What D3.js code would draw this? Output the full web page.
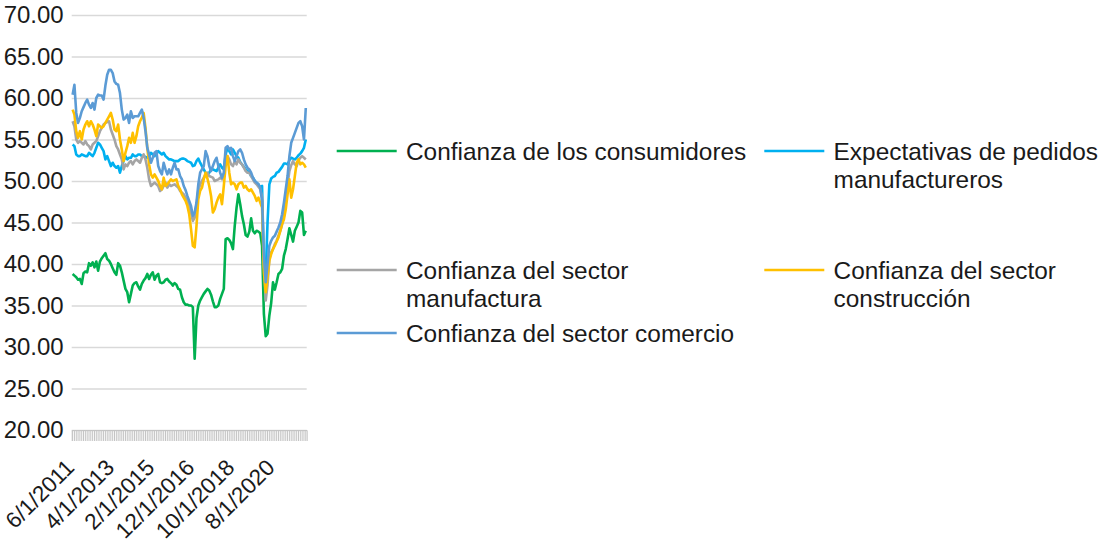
<!DOCTYPE html>
<html>
<head>
<meta charset="utf-8">
<script src="https://cdn.jsdelivr.net/npm/d3@7"></script>
<style>
  body { margin: 0; background: #fff; }
  text { font-family: "Liberation Sans", Arial, sans-serif; fill: #1a1a1a; }
</style>
</head>
<body>
<div id="chart"></div>
<script>
// monthly categories, 6/1/2011 .. 2/1/2022
var categories = d3.timeMonths(new Date(2011, 5, 1), new Date(2022, 2, 1));
var fmt = d3.timeFormat("%-m/%-d/%Y");

var tickLabels = ["6/1/2011", "4/1/2013", "2/1/2015", "12/1/2016", "10/1/2018", "8/1/2020"];
var yTicks = [20, 25, 30, 35, 40, 45, 50, 55, 60, 65, 70];

var consumidores = [
  38.8, 38.6, 38.4, 38.1, 38.2, 37.6, 38.9, 39.1, 39.0, 40.1,
  39.8, 40.2, 39.6, 40.3, 39.2, 40.3, 40.7, 41.0, 41.3, 40.6,
  40.4, 40.0, 39.5, 39.0, 38.7, 40.1, 39.8, 39.0, 38.0, 37.0,
  36.6, 35.4, 36.4, 37.4, 37.7, 37.8, 37.3, 36.9, 37.6, 38.0,
  38.3, 38.8, 38.2, 38.7, 39.0, 38.1, 38.6, 38.8, 37.8, 37.7,
  37.8, 38.1, 38.2, 37.9, 37.7, 37.4, 37.7, 37.5, 37.0, 36.9,
  36.0, 35.4, 35.1, 35.1, 35.0, 35.0, 34.8, 28.6, 33.5, 35.0,
  35.6, 36.0, 36.4, 36.7, 37.0, 36.8, 36.3, 35.5, 34.8, 34.8,
  35.0, 35.8, 36.4, 37.0, 43.0, 43.1, 42.9, 42.5, 41.8, 44.6,
  46.8, 48.4, 47.2, 45.8, 44.8, 43.5, 43.3, 43.9, 45.5, 44.0,
  43.7, 44.0, 43.9, 43.7, 42.2, 34.0, 31.3, 31.6, 33.8, 35.3,
  37.8, 36.9, 37.8, 38.8, 39.0, 39.4, 41.0, 41.8, 43.0, 44.3,
  43.5, 42.7, 44.0, 44.5, 45.0, 46.4, 46.2, 43.5, 44.0
];

var pedidos = [
  54.4, 54.2, 53.2, 53.0, 53.0, 53.2, 53.1, 53.0, 53.0, 53.4,
  53.2, 53.0, 53.4, 54.0, 54.6, 54.4, 54.0, 53.6, 52.6, 53.0,
  52.4, 51.8, 52.2, 51.8, 51.6, 51.8, 51.0, 51.8, 52.4, 53.0,
  52.6, 52.8, 52.8, 53.2, 53.0, 53.0, 53.2, 53.2, 53.0, 53.0,
  52.9, 52.8, 53.0, 53.4, 53.2, 53.0, 53.3, 53.6, 53.4, 53.2,
  53.4, 53.0, 52.8, 52.6, 52.6, 52.5, 52.4, 52.4, 52.4, 52.6,
  52.7, 52.7, 52.6, 52.4, 52.3, 52.2, 51.8, 51.9, 52.4, 52.7,
  52.2, 51.8, 51.4, 51.0, 50.8, 51.0, 51.4, 51.4, 51.3, 51.2,
  51.6, 52.0, 51.6, 51.4, 53.2, 54.0, 53.6, 53.2, 53.8, 53.4,
  53.0, 52.8, 52.3, 52.0, 51.7, 51.4, 51.2, 51.0, 50.6, 50.4,
  50.0, 49.8, 49.6, 49.2, 49.4, 39.6, 38.6, 45.0, 49.6, 50.3,
  50.5, 50.6, 51.0, 51.1, 51.4, 51.7, 52.1, 52.1, 52.0, 52.5,
  52.8, 52.7, 52.6, 52.8, 53.1, 53.3, 53.6, 54.0, 55.0
];

var manufactura = [
  57.2, 56.6, 55.0, 54.6, 54.8, 54.6, 54.4, 54.8, 54.4, 54.2,
  53.8, 54.4, 54.6, 54.8, 55.4, 56.0, 56.4, 56.8, 57.0, 57.1,
  57.2, 56.2, 55.6, 55.0, 54.2, 53.8, 53.2, 52.6, 51.4, 52.0,
  51.8, 52.2, 52.4, 52.0, 52.4, 52.6, 52.4, 52.2, 52.8, 53.2,
  52.6, 51.6, 50.2, 49.4, 49.6, 49.8, 49.6, 49.4, 48.8, 49.0,
  49.4, 49.8, 49.2, 49.6, 49.4, 49.5, 49.6, 49.4, 49.2, 48.8,
  48.6, 48.4, 48.0, 47.6, 47.0, 46.2, 45.2, 45.6, 47.2, 48.8,
  49.6, 50.0, 50.4, 50.8, 51.0, 50.6, 50.5, 50.4, 50.0, 50.1,
  50.2, 50.4, 50.2, 50.6, 52.6, 53.0, 52.6, 52.0, 51.8, 52.4,
  52.0, 52.6, 52.2, 52.0, 51.6, 51.2, 51.0, 51.0, 50.6, 50.2,
  49.8, 49.6, 49.3, 49.0, 48.0, 40.0, 35.6, 37.5, 40.6, 41.4,
  41.8, 42.4, 42.8, 43.4, 44.0, 44.8, 45.8, 47.4, 49.6, 51.2,
  51.9, 52.4, 52.0, 51.8, 52.5, 52.8, 53.0, 52.8, 52.6
];

var construccion = [
  58.6, 58.0, 56.0, 55.2, 56.0, 55.0, 56.2, 56.8, 57.2, 56.6,
  57.2, 56.8, 56.2, 55.4, 56.8, 56.6, 56.4, 56.6, 57.0, 57.4,
  57.8, 58.2, 57.4, 56.2, 56.0, 56.8, 55.0, 53.8, 52.4, 53.4,
  54.2, 55.2, 54.6, 55.8, 54.6, 55.4, 56.6, 57.2, 57.6, 58.2,
  56.4, 54.0, 52.0, 50.8, 50.4, 50.8, 50.4, 50.0, 49.4, 49.0,
  50.4, 49.4, 49.6, 49.9, 50.2, 50.0, 50.1, 50.2, 49.4, 49.0,
  48.4, 48.0, 47.6, 47.0, 46.0, 44.2, 42.2, 42.0, 44.6, 47.8,
  48.8, 49.2, 50.2, 51.0, 50.3, 49.4, 48.2, 46.2, 46.6, 47.4,
  48.0, 48.4, 47.2, 49.4, 51.8, 53.0, 51.0, 49.6, 49.8, 49.6,
  49.0, 49.6, 49.8, 49.8, 49.2, 49.4, 49.0, 48.8, 49.0, 48.6,
  48.2, 47.6, 48.0, 47.4, 46.8, 39.0, 36.6, 38.4, 40.4, 41.2,
  41.8, 42.2, 42.7, 43.2, 44.0, 44.8, 45.4, 46.6, 48.4, 50.2,
  48.0, 49.0, 50.6, 52.2, 52.6, 52.0, 52.2, 52.0, 51.6
];

var comercio = [
  60.4, 61.6, 58.2, 57.0, 57.6, 58.4, 58.9, 59.4, 59.8, 59.2,
  58.8, 59.4, 58.6, 60.0, 60.4, 60.3, 60.3, 59.8, 61.5, 62.8,
  63.4, 63.4, 63.0, 62.0, 61.7, 61.6, 60.6, 58.6, 57.4, 57.6,
  58.0, 57.0, 58.4, 57.6, 57.8, 57.8, 57.8, 58.2, 58.6, 57.6,
  56.0, 54.0, 53.2, 52.2, 52.8, 53.4, 53.6, 51.8, 51.2, 50.8,
  52.2, 51.4, 50.8, 51.4, 50.8, 51.6, 52.2, 51.4, 51.4, 50.6,
  50.2, 49.4, 48.9, 48.2, 47.6, 47.0, 45.8, 46.2, 47.4, 49.6,
  51.0, 51.4, 51.8, 53.6, 53.0, 51.8, 51.2, 51.8, 52.4, 52.8,
  51.8, 51.0, 50.4, 51.0, 54.0, 54.2, 53.8, 54.0, 53.0, 52.4,
  53.0, 53.6, 53.8, 53.4, 52.6, 52.0, 51.6, 51.4, 51.0, 50.4,
  50.0, 49.8, 49.6, 49.2, 47.6, 41.0, 37.8, 40.0, 42.2, 42.8,
  43.2, 43.4, 43.9, 44.4, 45.0, 46.0, 47.4, 49.0, 50.6, 53.0,
  54.6, 55.2, 55.8, 56.4, 57.0, 57.2, 56.6, 55.0, 58.8
];

var series = [
  {name: ["Confianza de los consumidores"], values: consumidores, color: "#00B050"},
  {name: ["Expectativas de pedidos", "manufactureros"], values: pedidos, color: "#00B0F0"},
  {name: ["Confianza del sector", "manufactura"], values: manufactura, color: "#A5A5A5"},
  {name: ["Confianza del sector", "construcción"], values: construccion, color: "#FFC000"},
  {name: ["Confianza del sector comercio"], values: comercio, color: "#5B9BD5"}
];

var W = 1099, H = 544;
var plotLeft = 71.7, plotRight = 306.7, plotTop = 15, plotBottom = 430;

var svg = d3.select("#chart").append("svg")
  .attr("width", W)
  .attr("height", H);

var x = d3.scaleBand()
  .domain(categories.map(fmt))
  .range([plotLeft, plotRight])
  .padding(0);

var y = d3.scaleLinear()
  .domain([20, 70])
  .range([plotBottom, plotTop]);

// gridlines + y labels
var yAxis = svg.append("g")
  .attr("transform", "translate(" + plotLeft + ",0)")
  .call(d3.axisLeft(y)
    .tickValues(yTicks)
    .tickSize(-(plotRight - plotLeft))
    .tickPadding(8)
    .tickFormat(d3.format(".2f")));
yAxis.select(".domain").remove();
yAxis.selectAll(".tick line")
  .attr("stroke", "#d9d9d9")
  .attr("stroke-width", 1.5);
yAxis.selectAll(".tick text")
  .style("font-size", "24px")
  .style("font-family", "'Liberation Sans', Arial, sans-serif")
  .attr("fill", "#1a1a1a");

// month tick band along the bottom
var xAxis = svg.append("g")
  .attr("transform", "translate(0," + plotBottom + ")")
  .call(d3.axisBottom(x)
    .tickSize(11)
    .tickSizeOuter(11)
    .tickFormat(""));
xAxis.selectAll("line, path")
  .attr("stroke", "#c4c4c4")
  .attr("stroke-width", 1);
xAxis.select(".domain").attr("fill", "none");

// rotated date labels
svg.append("g").selectAll("text")
  .data(categories.map(fmt).filter(function(d) { return tickLabels.indexOf(d) >= 0; }))
  .enter().append("text")
    .attr("text-anchor", "end")
    .attr("transform", function(d) {
      return "translate(" + (x(d) + x.bandwidth() / 2 + 3) + ",469) rotate(-45)";
    })
    .style("font-size", "22.5px")
    .text(function(d) { return d; });

// lines
var line = d3.line()
  .x(function(d, i) { return x(fmt(categories[i])) + x.bandwidth() / 2; })
  .y(function(d) { return y(d); });

svg.append("g").selectAll("path")
  .data(series)
  .enter().append("path")
    .attr("d", function(s) { return line(s.values); })
    .attr("fill", "none")
    .attr("stroke", function(s) { return s.color; })
    .attr("stroke-width", 2.6)
    .attr("stroke-linejoin", "round");

// legend, two columns
var legendPos = [
  {x: 336.7, y: 151},
  {x: 764.3, y: 151},
  {x: 336.7, y: 270},
  {x: 764.3, y: 270},
  {x: 336.7, y: 333}
];

var leg = svg.append("g").selectAll("g")
  .data(series)
  .enter().append("g")
    .attr("transform", function(s, i) { return "translate(" + legendPos[i].x + "," + legendPos[i].y + ")"; });

leg.append("line")
  .attr("x1", 0).attr("x2", 60)
  .attr("stroke", function(s) { return s.color; })
  .attr("stroke-width", 2.6);

leg.append("text")
  .attr("x", 69.3)
  .attr("y", 8.5)
  .style("font-size", "24.4px")
  .selectAll("tspan")
  .data(function(s) { return s.name; })
  .enter().append("tspan")
    .attr("x", 69.3)
    .attr("dy", function(d, i) { return i ? 28 : 0; })
    .text(function(d) { return d; });
</script>
</body>
</html>
